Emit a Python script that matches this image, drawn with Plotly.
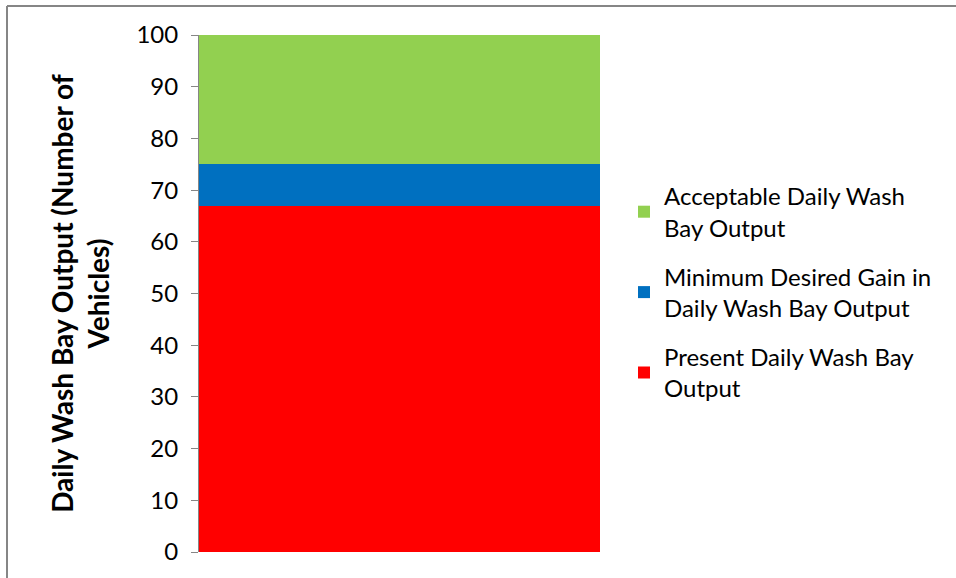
import plotly.graph_objects as go

category = [""]
series_names = [
    "Present Daily Wash Bay<br>Output",
    "Minimum Desired Gain in<br>Daily Wash Bay Output",
    "Acceptable Daily Wash<br>Bay Output",
]
series_values = [[67], [8], [25]]
series_colors = ["#FF0000", "#0070C0", "#92D050"]
y_ticks = [0, 10, 20, 30, 40, 50, 60, 70, 80, 90, 100]

FONT = "Lato, Open Sans, sans-serif"

fig = go.Figure()
n = len(series_names)
for i, (name, vals, col) in enumerate(zip(series_names, series_values, series_colors)):
    fig.add_trace(go.Bar(
        x=category, y=vals, name=name,
        legendgroup=f"g{i}", legendrank=n - i,
        marker=dict(color=col, line=dict(width=0)),
    ))

# plot area: x 199..601, y 35..552 in a 956x578 page
L, R, T, B = 199, 356, 35, 26
W, H = 956, 578
pw, ph = W - L - R, H - T - B

def px_x(px):
    return (px - L) / pw

def px_y(py):
    return (H - B - py) / ph

fig.update_layout(
    width=W, height=H,
    margin=dict(l=L, r=R, t=T, b=B),
    barmode="stack", bargap=0,
    plot_bgcolor="white", paper_bgcolor="white",
    font=dict(family=FONT, size=24, color="#000000"),
    showlegend=True,
    legend=dict(
        traceorder="grouped",
        x=px_x(624), y=px_y(174), xanchor="left", yanchor="top",
        font=dict(size=24, family=FONT, color="#000000"),
        itemsizing="constant",
        tracegroupgap=15,
        bgcolor="rgba(0,0,0,0)",
    ),
    xaxis=dict(
        showticklabels=False, showline=False, ticks="",
        showgrid=False, zeroline=False,
    ),
    yaxis=dict(
        range=[0, 100], tickvals=y_ticks,
        ticks="outside", ticklen=7, tickcolor="#868686", tickwidth=1,
        showline=True, linecolor="#868686", linewidth=1,
        showgrid=False, zeroline=False,
        ticklabelstandoff=8,
        tickfont=dict(size=24, family=FONT, color="#000000"),
        title=dict(
            text="<b>Daily Wash Bay Output (Number of<br>Vehicles)</b>",
            font=dict(size=28, family=FONT, color="#000000"),
            standoff=18,
        ),
    ),
    shapes=[
        dict(type="line", xref="paper", yref="paper",
             x0=px_x(7), x1=px_x(960), y0=px_y(6), y1=px_y(6),
             line=dict(color="#868686", width=2)),
        dict(type="line", xref="paper", yref="paper",
             x0=px_x(7), x1=px_x(7), y0=px_y(6), y1=px_y(590),
             line=dict(color="#868686", width=2)),
    ],
)

fig.write_html("out.html")
